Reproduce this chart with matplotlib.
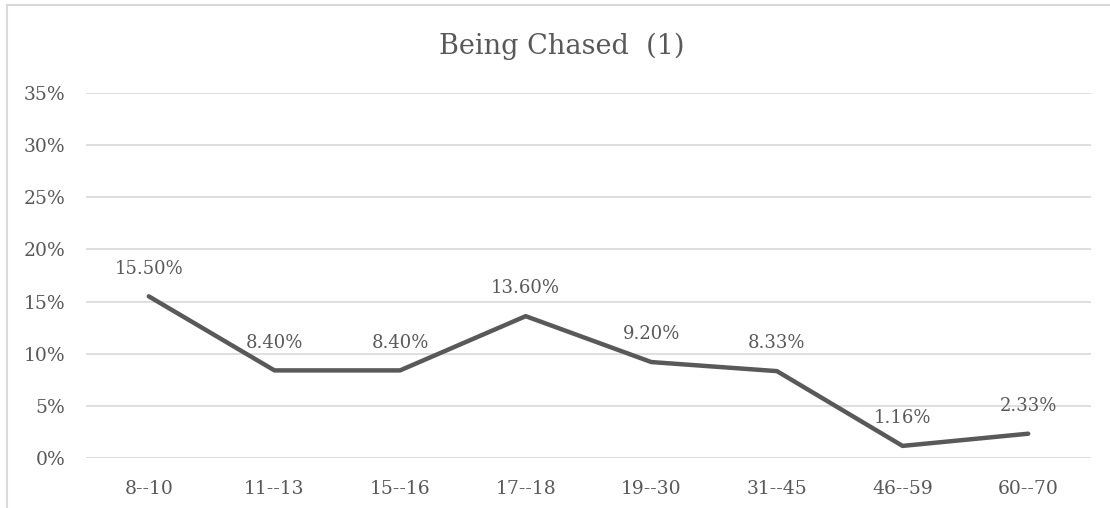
import matplotlib
matplotlib.use("Agg")
import matplotlib.pyplot as plt
from matplotlib.lines import Line2D
from matplotlib.ticker import FuncFormatter

# Age groups and share of respondents dreaming of being chased (%)
age_groups = ["8--10", "11--13", "15--16", "17--18", "19--30", "31--45", "46--59", "60--70"]
share = [15.50, 8.40, 8.40, 13.60, 9.20, 8.33, 1.16, 2.33]
y_ticks = [0, 5, 10, 15, 20, 25, 30, 35]

TEXT = "#595959"
GRID = "#d9d9d9"
LINE = "#595959"

plt.rcParams["font.family"] = ["DejaVu Serif"]

W, H = 1110, 508
fig = plt.figure(figsize=(W / 100, H / 100), dpi=100, facecolor="white")
ax = fig.add_axes([86 / W, (H - 458) / H, 1005 / W, 365 / H])

x = range(len(age_groups))
ax.plot(x, share, color=LINE, linewidth=3.2, solid_capstyle="round",
        solid_joinstyle="round", zorder=3)

for xi, val in zip(x, share):
    ax.annotate(f"{val:.2f}%", xy=(xi, val), xytext=(0, 20),
                textcoords="offset points", ha="center", va="center",
                fontsize=13, color=TEXT, zorder=4)

ax.set_xlim(-0.5, len(age_groups) - 0.5)
ax.set_ylim(0, 35)
ax.set_yticks(y_ticks)
ax.yaxis.set_major_formatter(FuncFormatter(lambda v, _: f"{v:.0f}%"))
ax.set_xticks(list(x))
ax.set_xticklabels(age_groups)
ax.tick_params(axis="both", length=0, labelsize=13.5, labelcolor=TEXT)
ax.tick_params(axis="x", pad=16)
ax.tick_params(axis="y", pad=15)
ax.yaxis.grid(True, color=GRID, linewidth=1.2)
ax.set_axisbelow(True)
for s in ax.spines.values():
    s.set_visible(False)

fig.text(562 / W, 1 - 46 / H, "Being Chased  (1)", ha="center", va="center",
         fontsize=19.5, color=TEXT)

# chart frame (left and top edges)
fig.add_artist(Line2D([7 / W, 7 / W], [0, 1 - 5 / H], color=GRID, linewidth=1.5))
fig.add_artist(Line2D([7 / W, 1], [1 - 5 / H, 1 - 5 / H], color=GRID, linewidth=1.5))

fig.savefig("out.png", dpi=100, facecolor="white")
